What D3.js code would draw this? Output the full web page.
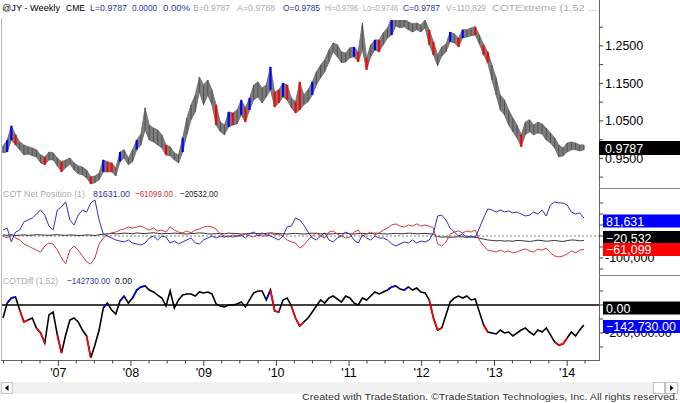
<!DOCTYPE html>
<html><head><meta charset="utf-8">
<script src="https://cdn.jsdelivr.net/npm/d3@7"></script>
<style>body{margin:0;background:#fff}svg{display:block}text{font-family:"Liberation Sans",Arial,sans-serif}</style>
</head><body><svg id="c" width="680" height="403"></svg>
<script>
// ---- data (3-week samples from Mar 2006 to Mar 2014) ----
const priceHigh=[0.983,0.999,1.037,1.013,0.994,0.986,0.981,0.978,0.973,0.959,
0.954,0.967,0.965,0.951,0.941,0.946,0.951,0.938,0.930,0.927,
0.919,0.901,0.903,0.911,0.946,0.941,0.938,0.925,0.967,0.973,
0.951,0.973,0.999,1.015,1.085,1.039,1.031,1.026,1.013,0.986,
0.981,0.965,0.959,1.005,1.058,1.093,1.119,1.167,1.146,1.159,
1.133,1.093,1.047,1.039,1.074,1.071,1.079,1.106,1.085,1.111,
1.146,1.154,1.138,1.146,1.194,1.127,1.133,1.151,1.146,1.111,
1.101,1.154,1.119,1.133,1.154,1.181,1.199,1.213,1.239,1.258,
1.253,1.234,1.231,1.245,1.247,1.234,1.311,1.218,1.253,1.266,
1.266,1.285,1.298,1.325,1.325,1.319,1.325,1.314,1.309,1.311,
1.306,1.319,1.293,1.261,1.226,1.247,1.255,1.287,1.282,1.271,
1.293,1.293,1.298,1.301,1.279,1.253,1.234,1.199,1.165,1.119,
1.106,1.079,1.058,1.039,1.013,1.047,1.053,1.039,1.047,1.042,
1.031,1.018,1.005,0.986,0.978,0.991,0.994,0.991,0.986,0.986];
const priceLow=[0.965,0.967,0.999,0.986,0.973,0.959,0.962,0.957,0.954,0.938,
0.933,0.946,0.946,0.930,0.914,0.925,0.935,0.919,0.909,0.906,
0.898,0.882,0.885,0.893,0.914,0.914,0.914,0.903,0.941,0.951,
0.933,0.941,0.973,0.986,1.026,0.999,0.994,0.986,0.978,0.959,
0.957,0.946,0.938,0.967,1.013,1.053,1.074,1.127,1.093,1.119,
1.093,1.039,1.021,1.013,1.034,1.039,1.042,1.066,1.047,1.079,
1.106,1.114,1.098,1.114,1.133,1.087,1.098,1.114,1.106,1.085,
1.071,1.079,1.093,1.101,1.119,1.146,1.165,1.181,1.207,1.234,
1.221,1.205,1.207,1.218,1.221,1.207,1.239,1.186,1.221,1.239,
1.234,1.253,1.271,1.279,1.303,1.298,1.301,1.293,1.287,1.293,
1.287,1.298,1.253,1.226,1.197,1.223,1.234,1.261,1.258,1.247,
1.271,1.274,1.277,1.279,1.255,1.226,1.205,1.159,1.119,1.079,
1.066,1.039,1.021,1.005,0.981,1.013,1.021,1.013,1.018,1.015,
0.999,0.991,0.978,0.954,0.957,0.967,0.973,0.973,0.970,0.973];
const barFlags=("gbbrgggggg"+"rgggrggggg"+"grggbrrgbg"+"ggbggggggr"+"gggbgggggg"+
"grggbrgbrb"+"ggggbrrbrg"+"rrggbggggg"+"ggggbrgrgb"+"rggbgggggg"+
"ggrrgggbgr"+"bggrgrrggg"+"ggggrggggg"+"gggggggggg").split("");
// COT net positions, thousands of contracts
const netBlue=[27,36,-27,18,27,64,73,82,100,118,
95,45,27,118,132,155,73,50,95,118,
109,150,164,73,9,0,-9,-18,-23,-27,
-18,-32,-36,-41,-32,-9,0,-18,0,-5,
-32,-23,-36,-27,-18,-9,-32,-36,-18,-9,
0,-9,0,-5,0,-5,0,5,-9,9,
18,0,14,5,0,-9,-18,0,41,45,
82,73,50,18,-9,-18,0,14,-18,-27,
-9,0,18,9,-18,-32,5,-9,-18,0,
-9,-9,-18,-36,-45,-36,-27,-32,-18,-32,
-23,-27,-18,14,91,95,73,36,18,0,
9,-5,0,-9,36,82,123,118,109,118,
109,114,105,109,100,91,95,109,100,118,
91,141,155,150,150,141,109,100,105,81.631];
const netRed=[0,-9,5,-9,-18,-36,-45,-55,-64,-73,
-45,-32,-36,-64,-100,-127,-64,-45,-64,-91,
-118,-127,-100,-36,-9,9,14,18,27,32,
41,36,41,45,36,27,36,23,27,18,
41,27,18,14,23,14,27,32,41,45,
41,32,9,0,-5,5,0,0,9,0,
-5,5,0,0,14,5,9,0,-18,-27,
-32,-55,-41,-18,0,14,0,-9,18,23,
9,0,-9,-5,18,27,0,9,18,5,
14,27,36,50,55,45,41,50,45,55,
45,50,45,36,-36,-45,-27,9,18,23,
14,23,18,27,-18,-45,-64,-68,-73,-64,
-73,-68,-77,-73,-64,-59,-68,-73,-59,-64,
-55,-77,-91,-95,-91,-82,-68,-77,-64,-61.099];
const netBlack=[5,3,6,2,4,5,3,4,6,5,
4,3,5,6,4,3,5,4,2,3,
5,4,2,6,8,10,12,9,11,13,
12,10,14,12,11,13,15,12,10,12,
11,13,12,10,9,11,12,14,13,10,
9,11,12,10,13,12,11,9,10,12,
13,11,10,12,14,12,11,10,9,11,
12,10,9,11,13,12,10,11,9,10,
12,11,13,10,9,11,12,10,11,13,
12,10,9,11,12,10,11,13,12,10,
11,12,10,9,-3,-5,-4,-6,-5,-3,
-4,-6,-5,-4,-10,-14,-18,-20,-22,-21,
-23,-22,-24,-20,-21,-23,-25,-22,-19,-21,
-24,-22,-20,-23,-25,-21,-18,-19,-22,-20.532];
const cotDiff=[-93,14,50,57,-36,-121,-107,-93,-164,-200,
-271,-71,-50,-214,-343,-214,-107,-93,-121,-179,
-221,-378,-286,-179,-21,14,-36,-64,29,64,
14,50,107,129,136,107,93,71,50,-7,
100,-21,36,71,79,79,64,93,86,93,
79,7,-7,-14,0,0,7,21,-14,36,
86,100,100,36,107,-43,-50,36,50,-7,
-93,-150,-121,-93,-50,-7,36,14,50,64,
43,21,64,50,14,0,50,36,64,93,
79,93,107,129,136,114,107,129,107,121,
93,86,36,-93,-179,-164,-71,21,50,64,
50,64,36,43,-50,-143,-193,-200,-207,-179,
-200,-193,-221,-200,-179,-164,-193,-214,-179,-193,
-164,-214,-264,-286,-279,-236,-193,-221,-179,-142.73];
const diffFlags=("kkbbkrrkkr"+"rkkkrkkkkk"+"krkkkbkkkb"+"kkbbbkkkkk"+"kkkkkkkkkk"+
"kkkkkkkkkk"+"kkkkbrrkkk"+"rrrkkkkkkk"+"kkkkkkkkkk"+"kkkbbkkbkk"+
"kkkrrrkkkk"+"kkkkkkrkkk"+"kkkkkkkkkk"+"kkkrrrkkkk").split("");
const priceMajor=[1.25,1.15,1.05,0.95];
const priceMinor=[1.30,1.20,1.10,1.00,0.90];
const yearLabels=["'07","'08","'09","'10","'11","'12","'13","'14"];
const years=[2007,2008,2009,2010,2011,2012,2013,2014];
const lastClose="0.9787";
const header=[["@JY - Weekly",2,58,"#000"],["CME",66,19,"#000"],["L=0.9787",90,37,"#33339a"],["0.0000",132,25,"#33339a"],["0.00%",163,27,"#33339a"],["B=0.9787",193,37,"#ababab"],["A=0.9788",237,38,"#ababab"],["O=0.9785",283,37,"#33339a"],["Hi=0.9796",325,33,"#ababab"],["Lo=0.9746",363,35,"#ababab"],["C=0.9787",403,37,"#33339a"],["V=110,829",446,40,"#ababab"],["COTExtreme (1,52 ...",492,105,"#ababab"]];

// ---- drawing ----
const svg=d3.select("#c");
svg.append("rect").attr("width",680).attr("height",403).attr("fill","#fff");
const n=priceHigh.length;
const startDate=new Date(2006,2,29);
const dates=d3.range(n).map(i=>d3.timeDay.offset(startDate,21*i));
const x=d3.scaleTime().domain([new Date(2006,2,29),new Date(2014,5,10)]).range([3,599]);
const yP=d3.scaleLinear().domain([0.871,1.319]).range([188,20]);
const yN=d3.scaleLinear().domain([-177.3,218.2]).range([275,188]);
const yD=d3.scaleLinear().domain([-392.9,214.3]).range([360,275]);
const col={g:"#555",b:"#0000ff",r:"#ff0000",k:"#000"};
const defs=svg.append("defs");
[["cp",20,188],["cn",188,275],["cd",275,360]].forEach(([id,a,b])=>{
  defs.append("clipPath").attr("id",id).append("rect").attr("x",2).attr("y",a).attr("width",597).attr("height",b-a);});

// price bars: high-low band plus bars
const gP=svg.append("g").attr("clip-path","url(#cp)");
gP.append("path").attr("d",d3.area().x((d,i)=>x(dates[i])).y0((d,i)=>yP(priceLow[i])).y1(d=>yP(d))(priceHigh))
 .attr("fill","#7c7c7c").attr("stroke","#6a6a6a").attr("stroke-width",0.8);
const order=d3.range(n).sort((a,b)=>(barFlags[a]!=="g")-(barFlags[b]!=="g"));
gP.selectAll(".bar").data(order).join("line").attr("class","bar")
 .attr("x1",i=>x(dates[i])).attr("x2",i=>x(dates[i]))
 .attr("y1",i=>yP(priceHigh[i])).attr("y2",i=>yP(priceLow[i]))
 .attr("stroke",i=>col[barFlags[i]]).attr("stroke-width",i=>barFlags[i]==="g"?1.1:2.2);

// COT net position
const gN=svg.append("g").attr("clip-path","url(#cn)");
gN.append("line").attr("x1",2).attr("x2",599).attr("y1",yN(0)).attr("y2",yN(0))
 .attr("stroke","#808080").attr("stroke-dasharray","2,2");
const lineN=arr=>d3.line().x((d,i)=>x(dates[i])).y(d=>yN(d))(arr);
gN.append("path").attr("d",lineN(netBlack)).attr("fill","none").attr("stroke","#333");
gN.append("path").attr("d",lineN(netRed)).attr("fill","none").attr("stroke","#d03a3a");
gN.append("path").attr("d",lineN(netBlue)).attr("fill","none").attr("stroke","#3030c0");

// COT diff
const gD=svg.append("g").attr("clip-path","url(#cd)");
gD.append("line").attr("x1",2).attr("x2",599).attr("y1",yD(0)).attr("y2",yD(0)).attr("stroke","#000").attr("stroke-width",1.6);
gD.append("path").attr("d",d3.line().x((d,i)=>x(dates[i])).y(d=>yD(d))(cotDiff)).attr("fill","none").attr("stroke","#000").attr("stroke-width",1.6);
gD.selectAll(".seg").data(d3.range(1,n).filter(i=>diffFlags[i]!=="k")).join("line").attr("class","seg")
 .attr("x1",i=>x(dates[i-1])).attr("x2",i=>x(dates[i]))
 .attr("y1",i=>yD(cotDiff[i-1])).attr("y2",i=>yD(cotDiff[i]))
 .attr("stroke",i=>col[diffFlags[i]]).attr("stroke-width",1.6);

// frame and axes
svg.append("line").attr("x1",1.5).attr("x2",1.5).attr("y1",18).attr("y2",361).attr("stroke","#bbb");
svg.append("line").attr("x1",599.5).attr("x2",599.5).attr("y1",0).attr("y2",361).attr("stroke","#666");
svg.append("line").attr("x1",1).attr("x2",600).attr("y1",360.5).attr("y2",360.5).attr("stroke","#666");
[188.5,275.5].forEach(y=>svg.append("line").attr("x1",599).attr("x2",680).attr("y1",y).attr("y2",y).attr("stroke","#888"));
const ax=svg.append("g").attr("font-size","12.5px");
priceMajor.concat(priceMinor).forEach(v=>ax.append("line").attr("x1",599).attr("x2",603).attr("y1",yP(v)).attr("y2",yP(v)).attr("stroke","#444"));
priceMajor.forEach(v=>ax.append("text").attr("x",605).attr("y",yP(v)+4.5).text(d3.format(".4f")(v)));
[150,100,50,0,-50,-100,-150].forEach(v=>ax.append("line").attr("x1",599).attr("x2",603).attr("y1",yN(v)).attr("y2",yN(v)).attr("stroke","#444"));
ax.append("text").attr("x",605).attr("y",yN(-100)+4.5).text("-100,000");
[100,0,-100,-200,-300].forEach(v=>ax.append("line").attr("x1",599).attr("x2",603).attr("y1",yD(v)).attr("y2",yD(v)).attr("stroke","#444"));
ax.append("text").attr("x",605).attr("y",yD(-200)+4.5).text("-200,000.00");

// x axis
const qTicks=x.ticks(d3.timeMonth.every(3));
svg.selectAll(".xt").data(qTicks).join("line").attr("class","xt").attr("x1",d=>x(d)).attr("x2",d=>x(d))
 .attr("y1",360).attr("y2",d=>d.getMonth()===0?366:363.5).attr("stroke","#444");
years.forEach((yr,i)=>svg.append("text").attr("x",x(new Date(yr,0,1))).attr("y",377).attr("text-anchor","middle").attr("font-size","12.5px").text(yearLabels[i]));

// value boxes
function box(x0,y0,h,fill,txt){
  svg.append("rect").attr("x",x0).attr("y",y0).attr("width",680-x0).attr("height",h).attr("fill",fill);
  svg.append("text").attr("x",x0+(x0<601?6:3)).attr("y",y0+h/2+4.5).attr("fill","#fff").attr("font-size","12.5px").text(txt);
}
box(599,141,14,"#000",lastClose);
box(603,214.5,13,"#0000ff",d3.format(",.0f")(netBlue[n-1]*1000));
box(603,231,15,"#000",d3.format(",.0f")(netBlack[n-1]*1000));
box(603,243,13,"#ff0000",d3.format(",.0f")(netRed[n-1]*1000));
box(603,301.5,13,"#000","0.00");
box(603,320,13,"#0000ff",d3.format(",.2f")(cotDiff[n-1]*1000));

// header and panel labels
const hd=svg.append("g").attr("font-size","9.5px");
header.forEach(([t,x0,w,c])=>hd.append("text").attr("x",x0).attr("y",11).attr("fill",c).attr("textLength",w).attr("lengthAdjust","spacingAndGlyphs").text(t));
const lab=(t,x0,w,y,c)=>svg.append("text").attr("x",x0).attr("y",y).attr("fill",c).attr("font-size","9.5px").attr("textLength",w).attr("lengthAdjust","spacingAndGlyphs").text(t);
lab("COT Net Position (1)",3,82,197,"#ababab");
lab(d3.format(".2f")(netBlue[n-1]*1000),93,37,197,"#3333aa");
lab(d3.format(".2f")(netRed[n-1]*1000),135,38,197,"#cc3333");
lab(d3.format(".2f")(netBlack[n-1]*1000),180,38,197,"#222");
lab("COTDiff (1,52)",3,55,284,"#ababab");
lab(d3.format(".2f")(cotDiff[n-1]*1000),67,43,284,"#3333aa");
lab("0.00",115,17,284,"#222");

// scrollbar and footer
svg.append("rect").attr("x",0).attr("y",382).attr("width",680).attr("height",12).attr("fill","#f1f1f1");
svg.append("rect").attr("x",1.5).attr("y",382.5).attr("width",11).attr("height",11).attr("fill","#f7f7f7").attr("stroke","#c8c8c8");
svg.append("path").attr("d","M5,388 L8.5,385 L8.5,391 Z").attr("fill","#000");
svg.append("rect").attr("x",653.5).attr("y",382.5).attr("width",11).attr("height",11).attr("fill","#fff").attr("stroke","#c0c0c0");
svg.append("rect").attr("x",665.5).attr("y",382.5).attr("width",12).attr("height",11).attr("fill","#f7f7f7").attr("stroke","#c0c0c0");
svg.append("path").attr("d","M673.5,388 L670,385 L670,391 Z").attr("fill","#000");
svg.append("text").attr("x",678).attr("y",400).attr("text-anchor","end").attr("font-size","9px").attr("fill","#333").attr("textLength",376).attr("lengthAdjust","spacingAndGlyphs").text("Created with TradeStation. \u00A9TradeStation Technologies, Inc. All rights reserved.");
</script></body></html>
